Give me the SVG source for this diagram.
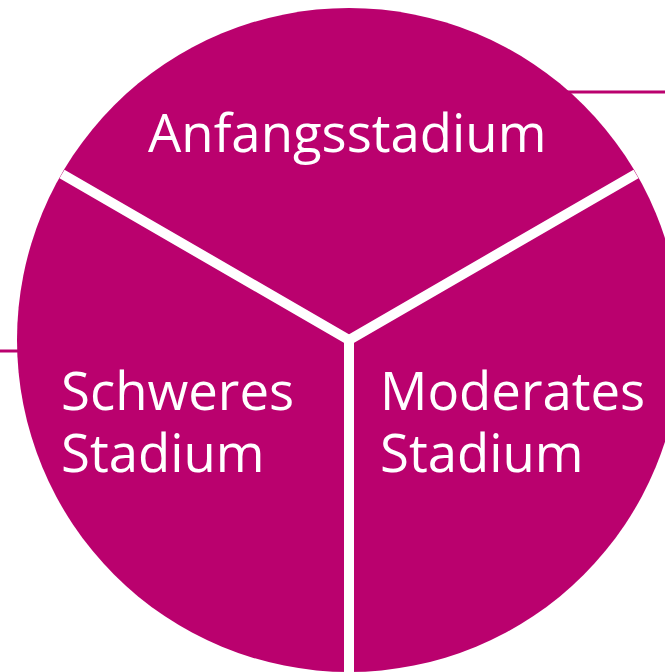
<svg xmlns="http://www.w3.org/2000/svg" width="665" height="672" viewBox="0 0 665 672">
<style>
.seg{fill:#BA016E}
.lead{stroke:#BA016E;stroke-width:3;fill:none}
.div{stroke:#FFFFFF;stroke-width:10;fill:none}
.lbl{font-family:"Open Sans","Liberation Sans",sans-serif;font-size:52.7px;fill:#FFFFFF}
</style>
<g id="connectors">
<line class="lead" x1="560" y1="92" x2="665" y2="92"/>
<line class="lead" x1="0" y1="351" x2="30" y2="351"/>
</g>
<g id="circle">
<circle class="seg" cx="349" cy="340" r="332"/>
</g>
<g id="dividers">
<polyline class="div" points="62,174 349,340 636,174"/>
<line class="div" x1="349" y1="340" x2="349" y2="680"/>
</g>
<g id="node-anfang">
<text class="lbl" x="148" y="152">Anfangsstadium</text>
</g>
<g id="node-schwer">
<text class="lbl" x="61" y="410">Schweres</text>
<text class="lbl" x="61" y="472">Stadium</text>
</g>
<g id="node-moderat">
<text class="lbl" x="380" y="410">Moderates</text>
<text class="lbl" x="380" y="472">Stadium</text>
</g>
</svg>
